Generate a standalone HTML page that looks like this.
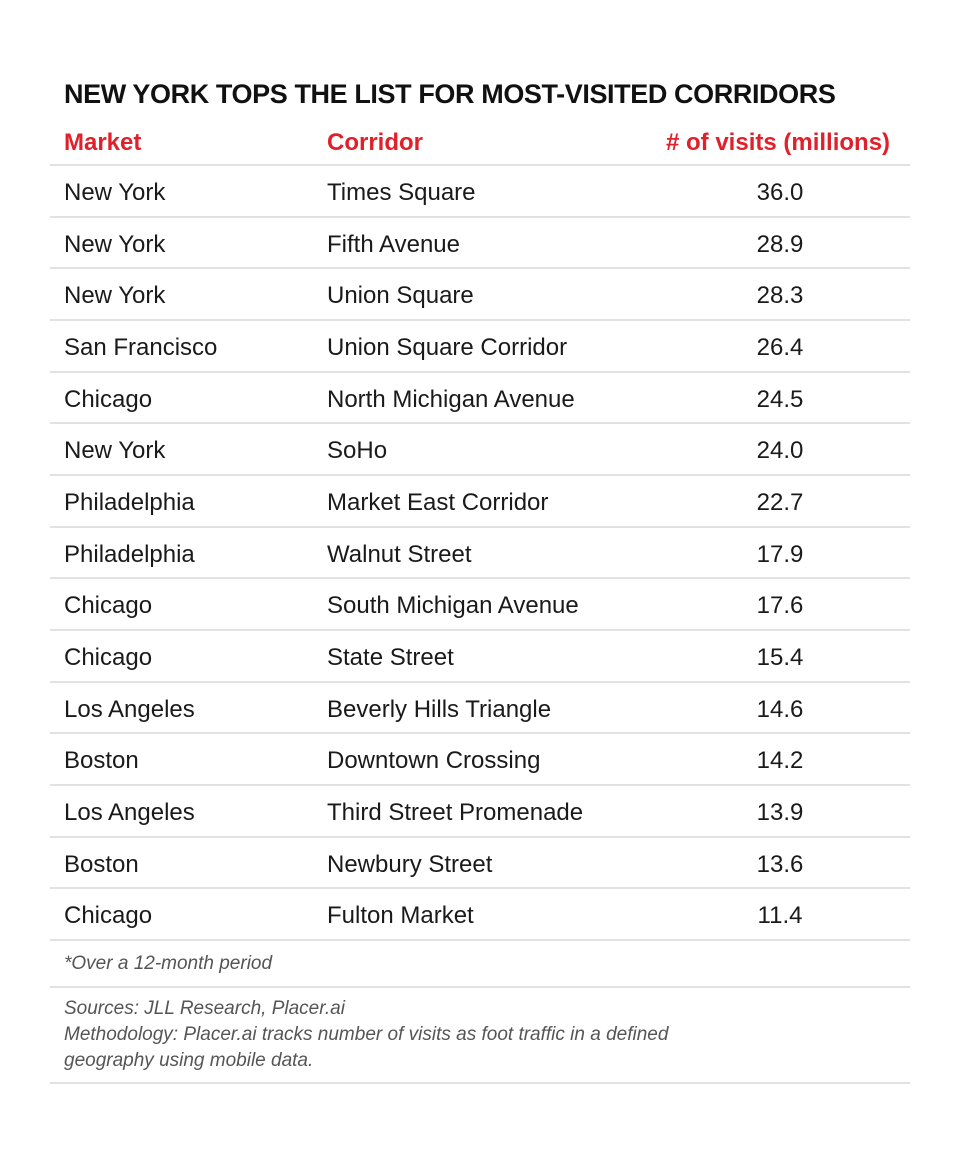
<!DOCTYPE html>
<html><head><meta charset="utf-8"><style>
body{margin:0;width:960px;height:1152px;background:#fff;position:relative;font-family:"Liberation Sans",sans-serif;color:#1a1a1a;overflow:hidden}
.t{position:absolute;white-space:nowrap}
.title{left:64px;top:79px;font-size:27px;font-weight:bold;color:#111;letter-spacing:-0.4px}
.h{font-size:24px;font-weight:bold;color:#e0202a;top:129px}
.r{font-size:24px}
.line{position:absolute;left:50px;width:860px;height:2px;background:#e2e2e2}
.v{width:120px;text-align:center;left:720px}
.f{font-size:19px;font-style:italic;color:#555;left:64px}
</style></head><body>
<div class="t title">NEW YORK TOPS THE LIST FOR MOST-VISITED CORRIDORS</div>
<div class="t h" style="left:64px">Market</div>
<div class="t h" style="left:327px">Corridor</div>
<div class="t h" style="left:666px">#&nbsp;of visits (millions)</div>
<div id="rows"></div>
<script>
var d=[["New York","Times Square","36.0"],["New York","Fifth Avenue","28.9"],["New York","Union Square","28.3"],["San Francisco","Union Square Corridor","26.4"],["Chicago","North Michigan Avenue","24.5"],["New York","SoHo","24.0"],["Philadelphia","Market East Corridor","22.7"],["Philadelphia","Walnut Street","17.9"],["Chicago","South Michigan Avenue","17.6"],["Chicago","State Street","15.4"],["Los Angeles","Beverly Hills Triangle","14.6"],["Boston","Downtown Crossing","14.2"],["Los Angeles","Third Street Promenade","13.9"],["Boston","Newbury Street","13.6"],["Chicago","Fulton Market","11.4"]];
var h='<div class="line" style="top:164px"></div>';
for(var i=0;i<d.length;i++){var y=165+i*51.67;var ty=y+14;
h+='<div class="t r" style="left:64px;top:'+ty+'px">'+d[i][0]+'</div>';
h+='<div class="t r" style="left:327px;top:'+ty+'px">'+d[i][1]+'</div>';
h+='<div class="t r v" style="top:'+ty+'px">'+d[i][2]+'</div>';
h+='<div class="line" style="top:'+(y+51.67-1)+'px"></div>';}
document.getElementById('rows').innerHTML=h;
</script>
<div class="t f" style="top:953px">*Over a 12-month period</div>
<div class="line" style="top:986px"></div>
<div class="t f" style="top:998px">Sources: JLL Research, Placer.ai</div>
<div class="t f" style="top:1024px">Methodology: Placer.ai tracks number of visits as foot traffic in a defined</div>
<div class="t f" style="top:1050px">geography using mobile data.</div>
<div class="line" style="top:1082px"></div>
</body></html>
